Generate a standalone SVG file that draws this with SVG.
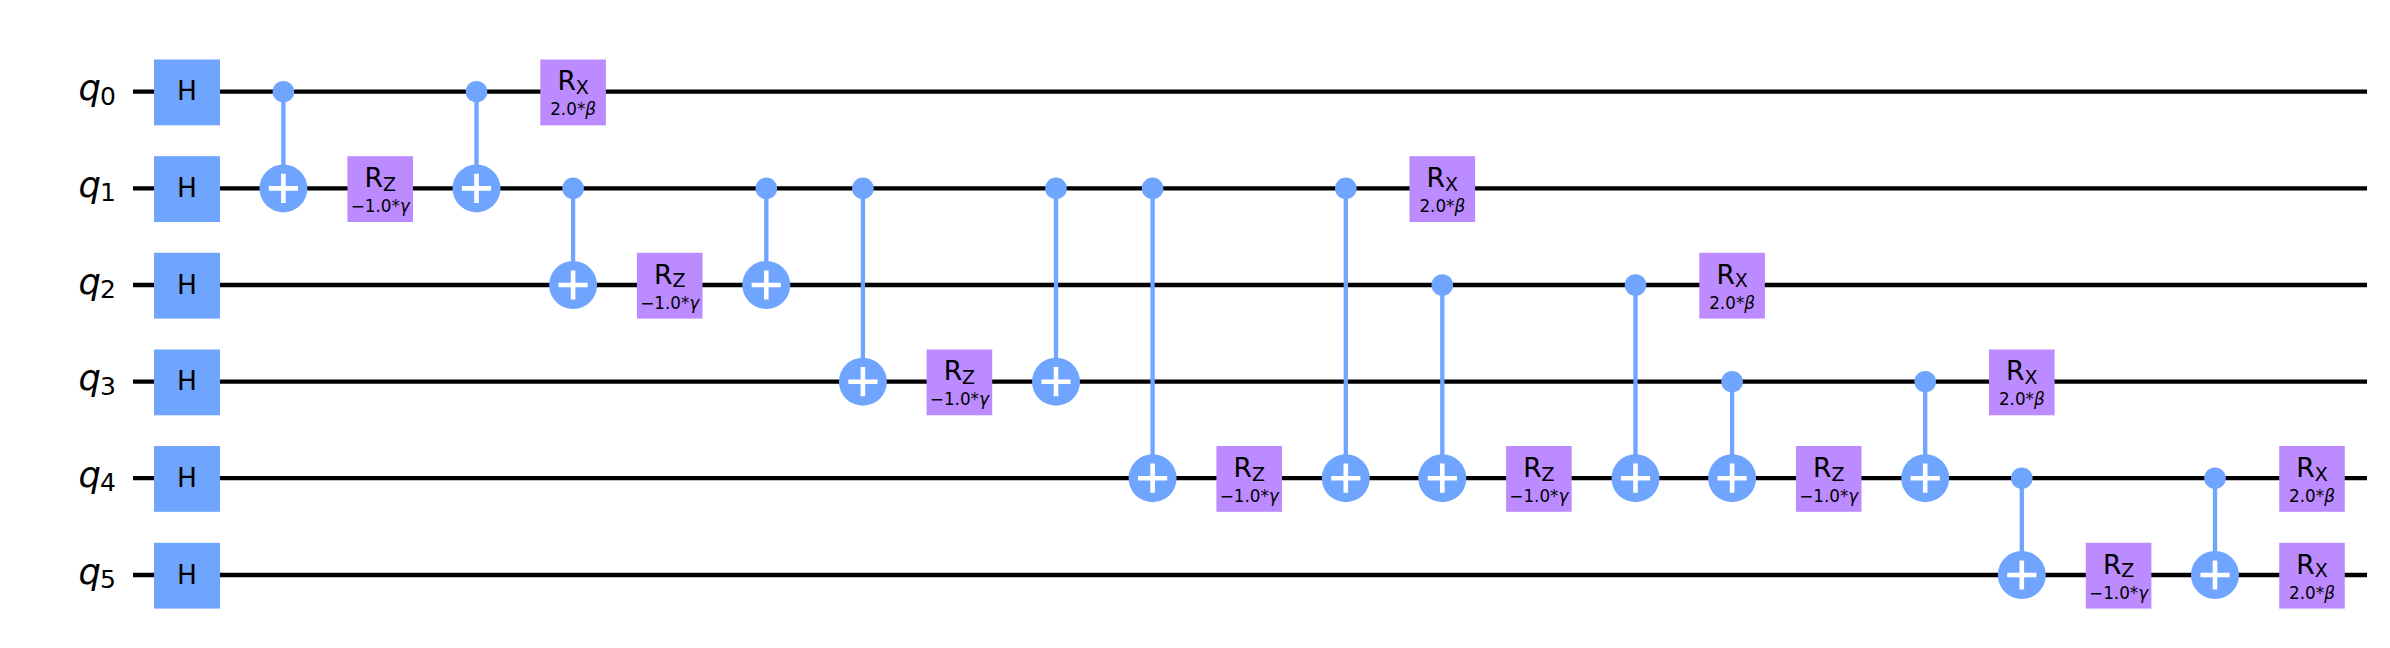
<svg xmlns="http://www.w3.org/2000/svg" width="2390" height="648" viewBox="0 0 2390 648">
<style>
text{font-family:"DejaVu Sans","Liberation Sans",sans-serif;fill:#000;text-anchor:middle}
.wire{stroke:#000;stroke-width:4.3;fill:none}
.link{stroke:#6FA4FF;stroke-width:4.3;fill:none}
.h{fill:#6FA4FF}
.r{fill:#BB8BFF}
.ctl{fill:#6FA4FF}
.tgt{fill:#6FA4FF}
.plus{stroke:#fff;stroke-width:4.6;fill:none}
.g{font-size:26.5px}
.s{font-size:19px}
.p{font-size:16.8px}
.i{font-style:italic}
.l{font-size:35.3px;font-style:italic;text-anchor:start}
.ls{font-size:25px;text-anchor:start}
</style>
<defs>
<g id="tgt"><circle class="tgt" r="24"/><path class="plus" d="M-14.6 0H14.6M0-14.6V14.6"/></g>
<g id="rect"><rect class="r" x="-32.8" y="-32.2" width="65.6" height="65.8"/></g>
<g id="hbox"><rect class="h" x="-33" y="-32.2" width="66" height="65.8"/></g>
</defs>
<rect width="2390" height="648" fill="#fff"/>
<g id="connectors">
<path class="wire" d="M133 91.7H2367M133 188.4H2367M133 285H2367M133 381.7H2367M133 478.2H2367M133 575H2367"/>
<path class="link" d="M283.4 91.7V188.4M476.5 91.7V188.4M573.1 188.4V285M766.3 188.4V285M862.9 188.4V381.7M1056 188.4V381.7M1152.6 188.4V478.2M1345.8 188.4V478.2M1442.3 285V478.2M1635.5 285V478.2M1732.1 381.7V478.2M1925.2 381.7V478.2M2021.8 478.2V575M2215 478.2V575"/>
</g>
<g id="labels">
<g id="label-q0"><text class="l" x="78.5" y="100.3">q</text><text class="ls" x="100" y="104.7">0</text></g>
<g id="label-q1"><text class="l" x="78.5" y="197">q</text><text class="ls" x="100" y="201.4">1</text></g>
<g id="label-q2"><text class="l" x="78.5" y="293.6">q</text><text class="ls" x="100" y="298">2</text></g>
<g id="label-q3"><text class="l" x="78.5" y="390.3">q</text><text class="ls" x="100" y="394.7">3</text></g>
<g id="label-q4"><text class="l" x="78.5" y="486.8">q</text><text class="ls" x="100" y="491.2">4</text></g>
<g id="label-q5"><text class="l" x="78.5" y="583.6">q</text><text class="ls" x="100" y="588">5</text></g>
</g>
<g id="h0" transform="translate(187 91.7)"><use href="#hbox"/><text class="g" y="8.5">H</text></g>
<g id="h1" transform="translate(187 188.4)"><use href="#hbox"/><text class="g" y="8.5">H</text></g>
<g id="h2" transform="translate(187 285)"><use href="#hbox"/><text class="g" y="8.5">H</text></g>
<g id="h3" transform="translate(187 381.7)"><use href="#hbox"/><text class="g" y="8.5">H</text></g>
<g id="h4" transform="translate(187 478.2)"><use href="#hbox"/><text class="g" y="8.5">H</text></g>
<g id="h5" transform="translate(187 575)"><use href="#hbox"/><text class="g" y="8.5">H</text></g>

<g id="cx1-c" transform="translate(283.4 91.7)"><circle class="ctl" r="10.8"/></g>
<g id="cx1-t" transform="translate(283.4 188.4)"><use href="#tgt"/></g>
<g id="rz-q1" transform="translate(380.2 188.4)"><use href="#rect"/><text class="g" y="-1.5">R<tspan class="s" dy="3.8">Z</tspan></text><text class="p" y="23.5">−1.0*<tspan class="i">γ</tspan></text></g>
<g id="cx2-c" transform="translate(476.5 91.7)"><circle class="ctl" r="10.8"/></g>
<g id="cx2-t" transform="translate(476.5 188.4)"><use href="#tgt"/></g>
<g id="rx-q0" transform="translate(573.1 91.7)"><use href="#rect"/><text class="g" y="-1.5">R<tspan class="s" dy="3.8">X</tspan></text><text class="p" y="23.5">2.0*<tspan class="i">β</tspan></text></g>
<g id="cx3-c" transform="translate(573.1 188.4)"><circle class="ctl" r="10.8"/></g>
<g id="cx3-t" transform="translate(573.1 285)"><use href="#tgt"/></g>
<g id="rz-q2" transform="translate(669.7 285)"><use href="#rect"/><text class="g" y="-1.5">R<tspan class="s" dy="3.8">Z</tspan></text><text class="p" y="23.5">−1.0*<tspan class="i">γ</tspan></text></g>
<g id="cx4-c" transform="translate(766.3 188.4)"><circle class="ctl" r="10.8"/></g>
<g id="cx4-t" transform="translate(766.3 285)"><use href="#tgt"/></g>
<g id="cx5-c" transform="translate(862.9 188.4)"><circle class="ctl" r="10.8"/></g>
<g id="cx5-t" transform="translate(862.9 381.7)"><use href="#tgt"/></g>
<g id="rz-q3" transform="translate(959.4 381.7)"><use href="#rect"/><text class="g" y="-1.5">R<tspan class="s" dy="3.8">Z</tspan></text><text class="p" y="23.5">−1.0*<tspan class="i">γ</tspan></text></g>
<g id="cx6-c" transform="translate(1056 188.4)"><circle class="ctl" r="10.8"/></g>
<g id="cx6-t" transform="translate(1056 381.7)"><use href="#tgt"/></g>
<g id="cx7-c" transform="translate(1152.6 188.4)"><circle class="ctl" r="10.8"/></g>
<g id="cx7-t" transform="translate(1152.6 478.2)"><use href="#tgt"/></g>
<g id="rz-q4a" transform="translate(1249.2 478.2)"><use href="#rect"/><text class="g" y="-1.5">R<tspan class="s" dy="3.8">Z</tspan></text><text class="p" y="23.5">−1.0*<tspan class="i">γ</tspan></text></g>
<g id="cx8-c" transform="translate(1345.8 188.4)"><circle class="ctl" r="10.8"/></g>
<g id="cx8-t" transform="translate(1345.8 478.2)"><use href="#tgt"/></g>
<g id="rx-q1" transform="translate(1442.3 188.4)"><use href="#rect"/><text class="g" y="-1.5">R<tspan class="s" dy="3.8">X</tspan></text><text class="p" y="23.5">2.0*<tspan class="i">β</tspan></text></g>
<g id="cx9-c" transform="translate(1442.3 285)"><circle class="ctl" r="10.8"/></g>
<g id="cx9-t" transform="translate(1442.3 478.2)"><use href="#tgt"/></g>
<g id="rz-q4b" transform="translate(1538.9 478.2)"><use href="#rect"/><text class="g" y="-1.5">R<tspan class="s" dy="3.8">Z</tspan></text><text class="p" y="23.5">−1.0*<tspan class="i">γ</tspan></text></g>
<g id="cx10-c" transform="translate(1635.5 285)"><circle class="ctl" r="10.8"/></g>
<g id="cx10-t" transform="translate(1635.5 478.2)"><use href="#tgt"/></g>
<g id="rx-q2" transform="translate(1732.1 285)"><use href="#rect"/><text class="g" y="-1.5">R<tspan class="s" dy="3.8">X</tspan></text><text class="p" y="23.5">2.0*<tspan class="i">β</tspan></text></g>
<g id="cx11-c" transform="translate(1732.1 381.7)"><circle class="ctl" r="10.8"/></g>
<g id="cx11-t" transform="translate(1732.1 478.2)"><use href="#tgt"/></g>
<g id="rz-q4c" transform="translate(1828.7 478.2)"><use href="#rect"/><text class="g" y="-1.5">R<tspan class="s" dy="3.8">Z</tspan></text><text class="p" y="23.5">−1.0*<tspan class="i">γ</tspan></text></g>
<g id="cx12-c" transform="translate(1925.2 381.7)"><circle class="ctl" r="10.8"/></g>
<g id="cx12-t" transform="translate(1925.2 478.2)"><use href="#tgt"/></g>
<g id="rx-q3" transform="translate(2021.8 381.7)"><use href="#rect"/><text class="g" y="-1.5">R<tspan class="s" dy="3.8">X</tspan></text><text class="p" y="23.5">2.0*<tspan class="i">β</tspan></text></g>
<g id="cx13-c" transform="translate(2021.8 478.2)"><circle class="ctl" r="10.8"/></g>
<g id="cx13-t" transform="translate(2021.8 575)"><use href="#tgt"/></g>
<g id="rz-q5" transform="translate(2118.6 575)"><use href="#rect"/><text class="g" y="-1.5">R<tspan class="s" dy="3.8">Z</tspan></text><text class="p" y="23.5">−1.0*<tspan class="i">γ</tspan></text></g>
<g id="cx14-c" transform="translate(2215 478.2)"><circle class="ctl" r="10.8"/></g>
<g id="cx14-t" transform="translate(2215 575)"><use href="#tgt"/></g>
<g id="rx-q4" transform="translate(2312 478.2)"><use href="#rect"/><text class="g" y="-1.5">R<tspan class="s" dy="3.8">X</tspan></text><text class="p" y="23.5">2.0*<tspan class="i">β</tspan></text></g>
<g id="rx-q5" transform="translate(2312 575)"><use href="#rect"/><text class="g" y="-1.5">R<tspan class="s" dy="3.8">X</tspan></text><text class="p" y="23.5">2.0*<tspan class="i">β</tspan></text></g>
</svg>
